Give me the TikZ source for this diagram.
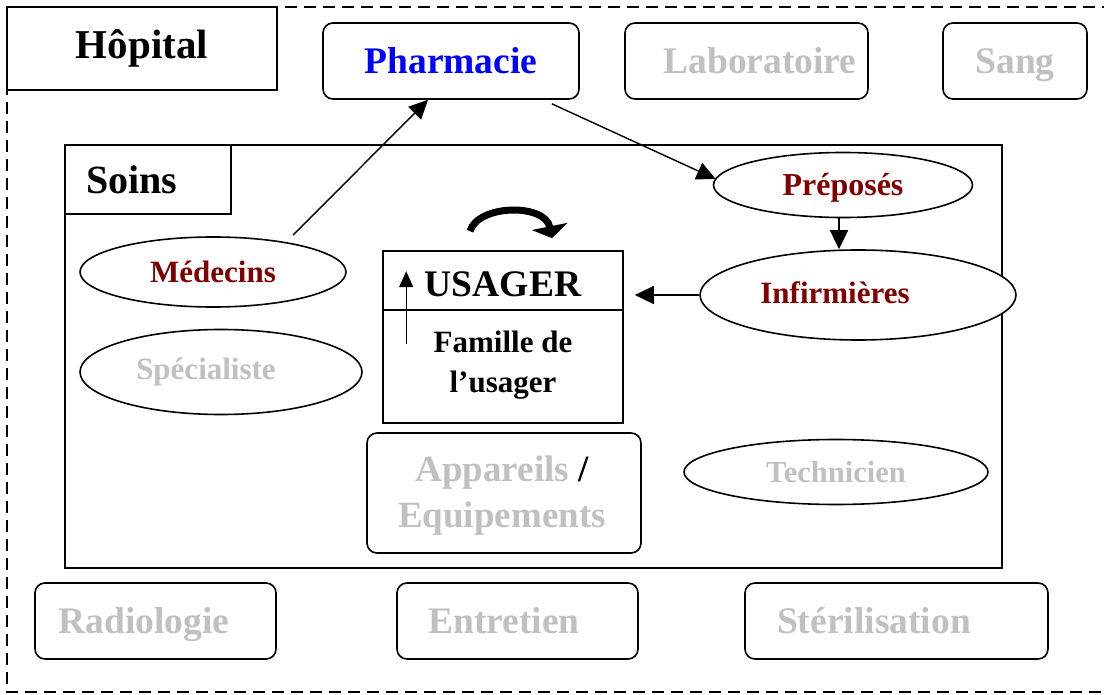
\documentclass[tikz,border=0pt]{standalone}
\usepackage{fontspec}
\setmainfont{Liberation Serif}
\usetikzlibrary{shapes.geometric,arrows.meta,calc}
\definecolor{softgrey}{RGB}{192,192,192}
\definecolor{deepred}{RGB}{128,0,0}
\definecolor{pharmblue}{RGB}{0,0,255}

\begin{document}
\begin{tikzpicture}[x=1pt,y=-1pt,
  outline/.style={draw, line width=1.6pt, inner sep=0pt},
  plainbox/.style={outline, rectangle},
  roundbox/.style={outline, rectangle, rounded corners=10pt},
  oval/.style={outline, ellipse, fill=white},
  word/.style={inner sep=0pt, text depth=0pt},
  big/.style={word, text height=25.5pt, font=\bfseries\fontsize{37.5}{40}\selectfont},
  mid/.style={word, text height=21pt, font=\bfseries\fontsize{31}{40}\selectfont},
  dim/.style={text=softgrey},
  link/.style={line width=1.4pt, -{Triangle[length=19pt,width=18pt]}},
]
\useasboundingbox (0,0) rectangle (1104,695);

% hospital boundary
\draw[line width=1.4pt, dash pattern=on 12pt off 7pt] (7,7) rectangle (1120,692);

% hospital services
\node[plainbox, minimum width=270pt, minimum height=83pt] (hop) at (142,48.5) {};
\node[word, text height=28pt, font=\bfseries\fontsize{41}{44}\selectfont] (hoptxt) at (142,45) {Hôpital};
\node[roundbox, big, text=pharmblue, minimum width=256pt, minimum height=76pt] (pharm) at (451,61) {Pharmacie};
\node[roundbox, minimum width=243pt, minimum height=76pt] (labo) at (746.5,61) {};
\node[big, dim] (labotxt) at (760,61) {Laboratoire};
\node[roundbox, big, dim, minimum width=144pt, minimum height=76pt] (sang) at (1015,61) {Sang};
\node[roundbox, minimum width=241pt, minimum height=76pt] (radio) at (155.5,621) {};
\node[big, dim] (radiotxt) at (144,621) {Radiologie};
\node[roundbox, minimum width=241pt, minimum height=76pt] (entr) at (517.5,621) {};
\node[big, dim] (entrtxt) at (504,621) {Entretien};
\node[roundbox, minimum width=303pt, minimum height=76pt] (steri) at (896.5,621) {};
\node[big, dim] (steritxt) at (874,621) {Stérilisation};

% care unit
\node[plainbox, minimum width=937pt, minimum height=423pt] (soins) at (533.5,356.5) {};
\node[plainbox, minimum width=166pt, minimum height=69pt, anchor=north west] (soinsbox) at (soins.north west) {};
\node[word, text height=27pt, font=\bfseries\fontsize{40}{44}\selectfont, anchor=west] (soinstxt) at (86,180.5) {Soins};

% care staff
\node[oval, mid, text=deepred, minimum width=266pt, minimum height=70pt] (med) at (213,272) {Médecins};
\node[oval, minimum width=282pt, minimum height=85pt] (spec) at (221,372) {};
\node[mid, dim] (spectxt) at (206,369) {Spécialiste};
\node[oval, mid, text=deepred, font=\bfseries\fontsize{32}{40}\selectfont, minimum width=259pt, minimum height=65pt] (prep) at (843,185) {Préposés};
\node[oval, minimum width=316pt, minimum height=90pt] (inf) at (858,295) {};
\node[mid, text=deepred] (inftxt) at (835,293) {Infirmières};
\node[oval, mid, dim, font=\bfseries\fontsize{30.5}{40}\selectfont, minimum width=304pt, minimum height=65pt] (tech) at (836,472) {Technicien};

% patient and family
\node[plainbox, minimum width=240pt, minimum height=172pt] (usager) at (503,337) {};
\draw[line width=1.6pt] ([yshift=-60pt]usager.north west) -- ([yshift=-60pt]usager.north east);
\node[big] (usagertxt) at (503,284) {USAGER};
\node[inner sep=0pt, align=center, font=\bfseries\fontsize{31}{40}\selectfont] (famille) at (503,365) {Famille de\\l’usager};

% equipment
\node[roundbox, minimum width=274pt, minimum height=120pt] (app) at (504,493) {};
\node[inner sep=0pt, align=center, font=\bfseries\fontsize{37}{46}\selectfont] (apptxt) at (502,496)
      {\textcolor{softgrey}{Appareils} /\\\textcolor{softgrey}{Equipements}};

% flows
\draw[link] ([xshift=80pt,yshift=1pt]med.north) -- ([xshift=-23pt]pharm.south);
\draw[link] ([xshift=-28pt,yshift=-4pt]pharm.south east) -- ([xshift=3pt,yshift=6pt]prep.west);
\draw[link] ([xshift=-4pt]prep.south) -- ([xshift=-4pt]prep.south |- inf.north);
\draw[link] (inf.west) -- ($(usager.east |- inf.west)+(11,0)$);
\draw[line width=1.4pt, -{Triangle[length=16pt,width=14pt]}]
  ($(usager.north west)+(24,94)$) -- ($(usager.north west)+(24,21)$);

% turn-around symbol above the patient
\draw[line width=7pt, -{Triangle[length=12pt,width=36pt]}]
  ($(usager.north)+(-33,-19)$) .. controls ($(usager.north)+(-25,-46)$) and ($(usager.north)+(42,-47)$) .. ($(usager.north)+(49,-12)$);
\end{tikzpicture}
\end{document}
